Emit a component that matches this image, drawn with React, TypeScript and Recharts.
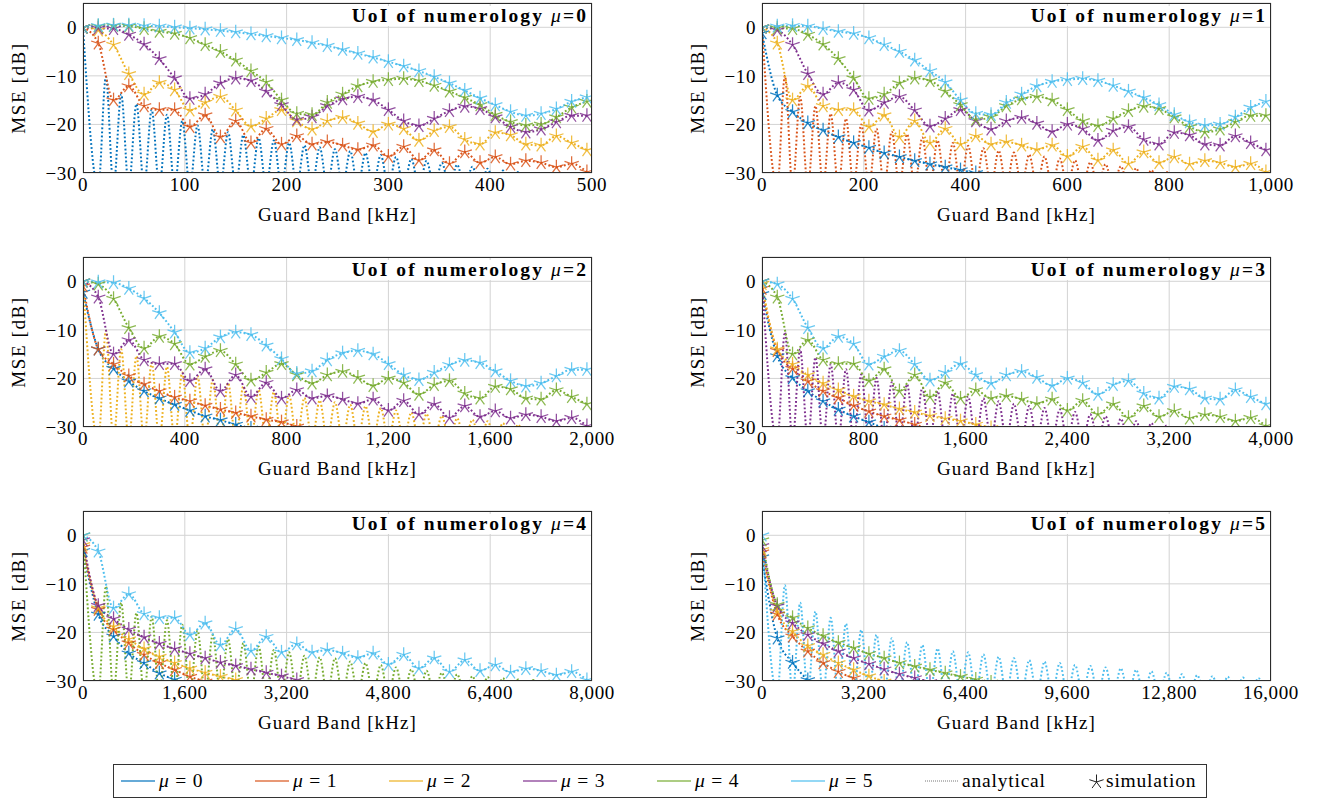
import React from "react";
import { LineChart, Line, XAxis, YAxis, CartesianGrid } from "recharts";

// MATLAB-ish default colours, one per numerology mu = 0..5
const muColors = ["#0072BD", "#D95319", "#EDB120", "#7E2F8E", "#77AC30", "#4DBEEE"];

// per panel (UoI numerology 0..5): spacing of simulated guard bands and axis range, kHz
const starSpacing = [15, 30, 60, 120, 240, 480];
const xMax = [500, 1000, 2000, 4000, 8000, 16000];
const xTicks = [
  [0, 100, 200, 300, 400, 500],
  [0, 200, 400, 600, 800, 1000],
  [0, 400, 800, 1200, 1600, 2000],
  [0, 800, 1600, 2400, 3200, 4000],
  [0, 1600, 3200, 4800, 6400, 8000],
  [0, 3200, 6400, 9600, 12800, 16000],
];
const yTicks = [-30, -20, -10, 0];
const NULL_DB = -33; // the UoI's own curve dips below the axis floor between lobes

// curves of numerologies 1..5 steps above the UoI, read at each simulated guard band
// (same shape in every panel, only the x spacing changes)
const above1 = [0, -3.3, -15, -12.1, -16.2, -17, -17, -20.5, -18.1, -22.6, -19.3, -23.8, -20.9, -24.1, -22.4, -24.1, -23.6, -24.3, -25.2, -24.3, -26.6, -24.6, -27.4, -25.3, -28.1, -25.7, -27.9, -26.7, -28.2, -27.5, -27.9, -28.8, -28.1, -29.8];
const above2 = [0, -0.6, -3.6, -9.6, -13.8, -11.4, -12.9, -17.1, -15.5, -14.3, -17.1, -20.4, -18.8, -17, -19.3, -21, -19.3, -18.6, -19.8, -21.5, -20, -20.9, -23.3, -21.3, -20.5, -23.1, -24.1, -21.7, -22.2, -24.1, -24.3, -22.4, -23.8, -25.3];
const above3 = [0, -0.2, -0.3, -1.5, -3.5, -6.5, -10.5, -14.7, -13.8, -11.5, -10.5, -11, -13.2, -16, -19, -18.5, -16.2, -14.8, -14.3, -15, -17, -19.3, -20.3, -18.8, -17.2, -16.3, -16.8, -18.5, -20.5, -21.6, -21, -19.5, -18.2, -18.2];
const above4 = [0, 0.2, 0.3, 0.2, -0.3, -0.9, -1.3, -2.2, -3.6, -5, -6.8, -9, -11.3, -15, -17.8, -18, -15.5, -13.8, -12.1, -11.2, -10.8, -10.6, -11, -12, -13.2, -14.5, -16, -18, -19.5, -20.2, -20, -18.5, -16.5, -15.3];
const above5 = [0, 0.3, 0.4, 0.4, 0.3, 0.2, 0, -0.2, -0.4, -0.7, -1, -1.4, -1.8, -2.2, -2.6, -3.2, -3.8, -4.6, -5.4, -6.2, -7.1, -8, -9, -10.2, -11.5, -13, -14.6, -16, -17.4, -18.2, -17.8, -16.8, -15.3, -14.4];

// side-lobe peaks of the UoI's own curve, first one between the 1st and 2nd null
const ownPeaks0 = [-10.2, -13.8, -15.8, -17, -18, -19.3, -20.2, -21, -21.6, -22.2, -22.8, -23.3, -23.8, -24.3, -24.7, -25.1, -25.5, -25.9, -26.3, -26.7, -27.1, -27.5, -27.9, -28.3, -28.7, -29.1, -29.5, -29.8, -30.3, -30.8, -31.2, -31.5];
const ownPeaks1 = [-10, -14.3, -16.2, -17.8, -18.8, -20, -20.9, -21.5, -22, -22.7, -23.3, -23.8, -24.4, -24.9, -25.4, -25.8, -26.2, -26.6, -27, -27.4, -27.8, -28.2, -28.6, -29, -29.4, -29.8, -30.3, -31];
const ownPeaks2 = [-10.2, -14, -15.4, -16.8, -17.6, -18.8, -19.5, -20.3, -20.9, -21.6, -22.3, -22.8, -23.5, -24, -24.5, -24.9, -25.4, -25.7, -26.1, -26.6, -27, -27.3, -27.7, -28.2, -28.5, -28.8, -29.2, -29.5, -29.9, -30.3, -30.7, -31];
const ownPeaks3 = [-10.5, -14, -15.7, -17.1, -18.1, -19.2, -19.9, -20.8, -21.2, -21.9, -22.6, -23.1, -23.7, -24.1, -24.7, -25.2, -25.7, -26.1, -26.4, -26.9, -27.4, -27.8, -28.3, -28.8, -29.2, -29.7, -30.2, -30.7];
const ownPeaks4 = [-10.5, -13.9, -16, -16.7, -17.5, -18.4, -19.6, -20.5, -21.4, -22.2, -22.9, -23.6, -24.1, -24.8, -25.1, -25.3, -26, -26.3, -26.7, -27.2, -27.6, -27.9, -28.3, -28.6, -29, -29.2, -29.4, -29.7, -29.8, -29.9, -30.3, -30.6];
const ownPeaks5 = [-10.3, -13.9, -15.7, -17, -18.2, -19.5, -20.5, -21.2, -22, -22.6, -23.3, -23.9, -24.1, -24.5, -25, -25.3, -25.7, -26, -26.3, -26.7, -26.9, -27.2, -27.4, -27.7, -28, -28.3, -28.6, -28.8, -29, -29.1, -29.3, -29.4];

// numerologies below the UoI, per panel
const p1Mu0 = [-1.2, -14, -17.4, -19.7, -21.2, -22.6, -23.8, -24.8, -25.9, -26.7, -27.5, -28.2, -28.8, -29.4, -30, -30.6];
const p2Mu0 = [-2.3, -14, -18, -20.6, -22.6, -24.1, -25.4, -26.6, -27.8, -28.6, -29.5, -30.3];
const p2Mu1 = [-1, -14, -17.1, -19.5, -21.2, -22.6, -23.9, -24.7, -25.6, -26.4, -27.1, -27.8, -28.5, -29, -29.9, -30.7];
const p3Mu0 = [-2.6, -15.4, -19.9, -22.6, -24.7, -26.4, -27.8, -29, -30.3];
const p3Mu1 = [-1.5, -14.3, -18, -20.6, -22.6, -24, -25.6, -26.8, -27.8, -28.6, -29.5, -30.4];
const p3Mu2 = [-0.5, -14, -17.1, -19.3, -21, -22.4, -23.7, -24.7, -25.4, -26.3, -27, -27.7, -28.3, -28.8, -29.5, -30.2];
const p4Mu0 = [-3.2, -16.3, -20.8, -24.3, -26.3, -28.4, -29.7, -31];
const p4Mu1 = [-2.5, -15.3, -19.4, -22.2, -24.6, -26.3, -27.7, -29.1, -30.1];
const p4Mu2 = [-2, -15, -18.8, -21.4, -23.4, -25, -26.3, -27.4, -28.3, -29.1, -29.8, -30.6];
const p4Mu3 = [-1, -14.5, -17.2, -19.4, -21, -22.3, -23.4, -24.4, -25.3, -26.2, -26.9, -27.6, -28.3, -29, -29.8, -30.5];
const p5Mu0 = [-4.5, -21.2, -26.2, -29.8, -32];
const p5Mu1 = [-3.5, -16.3, -20.8, -23.9, -26.3, -28.1, -29.4, -30.5];
const p5Mu2 = [-3, -15.7, -19.8, -22.8, -24.6, -26.3, -27.7, -29, -30.1];
const p5Mu3 = [-2.2, -14.6, -18.1, -20.5, -22.3, -23.9, -25.3, -26.5, -27.6, -28.6, -29.4, -30.2];
const p5Mu4 = [-1, -14.3, -17, -19.1, -20.7, -22.1, -23.2, -24.4, -25.3, -26.3, -27, -27.7, -28.4, -29.1, -29.7, -30.3];

const aboveCurves = [above1, above2, above3, above4, above5];
const ownPeaks = [ownPeaks0, ownPeaks1, ownPeaks2, ownPeaks3, ownPeaks4, ownPeaks5];
const belowCurves = [
  [],
  [p1Mu0],
  [p2Mu0, p2Mu1],
  [p3Mu0, p3Mu1, p3Mu2],
  [p4Mu0, p4Mu1, p4Mu2, p4Mu3],
  [p5Mu0, p5Mu1, p5Mu2, p5Mu3, p5Mu4],
];

type Pt = { x: number; y: number };

function buildSeries(panel: number, mu: number): { line: Pt[]; stars: Pt[] } {
  const step = starSpacing[panel];
  if (mu === panel) {
    const line: Pt[] = [{ x: 0, y: 0 }, { x: step, y: NULL_DB }];
    ownPeaks[panel].forEach((p, j) => {
      line.push({ x: (j + 1.5) * step, y: p }, { x: (j + 2) * step, y: NULL_DB });
    });
    return { line, stars: [{ x: 0, y: 0 }] };
  }
  const vals = mu < panel ? belowCurves[panel][mu] : aboveCurves[mu - panel - 1];
  const pts = vals.map((y, i) => ({ x: i * step, y }));
  return { line: pts, stars: pts };
}

const FONT = "'Liberation Serif', 'DejaVu Serif', serif";

const makeStar = (color: string) => (props: any) => {
  const { cx, cy, index, payload } = props;
  if (cx == null || cy == null || (payload && payload.y < -30.3)) return <g key={`s-${index}`} />;
  const r = 7.5;
  return (
    <g key={`s-${index}`} stroke={color} strokeWidth={1.25} strokeOpacity={0.85}>
      {[0, 1, 2, 3, 4].map((k) => {
        const a = -Math.PI / 2 + (k * 2 * Math.PI) / 5;
        return <line key={k} x1={cx} y1={cy} x2={cx + r * Math.cos(a)} y2={cy + r * Math.sin(a)} />;
      })}
    </g>
  );
};

const fmtY = (v: number) => (v < 0 ? "\u2212" + Math.abs(v) : String(v));
const fmtX = (v: number) => v.toLocaleString("en-US");

const PLOT_W = 509;
const PLOT_H = 170;
const CHART_W = 620;
const CHART_H = 205;
const tickStyle = { fill: "#000", fontSize: 19, fontFamily: FONT, letterSpacing: 0.6 };

const Panel = ({ panel }: { panel: number }) => {
  const col = panel % 2;
  const row = Math.floor(panel / 2);
  const chartLeft = col === 0 ? 0 : 679;
  const chartTop = row * 254;
  const plotLeft = chartLeft + 83;
  const plotTop = chartTop + 3;
  const series = [0, 1, 2, 3, 4, 5].map((mu) => buildSeries(panel, mu));

  return (
    <>
      <div style={{ position: "absolute", left: chartLeft, top: chartTop }}>
        <LineChart
          width={CHART_W}
          height={CHART_H}
          margin={{ top: 3, right: CHART_W - 83 - PLOT_W, bottom: CHART_H - 3 - PLOT_H - 27, left: 43 }}
        >
          <CartesianGrid stroke="#d3d3d3" strokeWidth={1} />
          <XAxis
            type="number"
            dataKey="x"
            domain={[0, xMax[panel]]}
            ticks={xTicks[panel]}
            allowDataOverflow
            tickFormatter={fmtX}
            tick={tickStyle}
            tickLine={false}
            tickSize={4}
            tickMargin={1}
            axisLine={false}
            height={27}
            interval={0}
          />
          <YAxis
            type="number"
            domain={[-30, 5]}
            ticks={yTicks}
            allowDataOverflow
            tickFormatter={fmtY}
            tick={tickStyle}
            tickLine={false}
            tickSize={3}
            tickMargin={3}
            axisLine={false}
            width={40}
            interval={0}
          />
          {series.map((s, mu) => (
            <Line
              key={`a-${mu}`}
              data={s.line}
              dataKey="y"
              type="monotone"
              stroke={muColors[mu]}
              strokeWidth={2}
              strokeDasharray="1.8 2.2"
              dot={false}
              activeDot={false}
              isAnimationActive={false}
            />
          ))}
          {series.map((s, mu) => (
            <Line
              key={`s-${mu}`}
              data={s.stars}
              dataKey="y"
              stroke="none"
              dot={makeStar(muColors[mu])}
              activeDot={false}
              isAnimationActive={false}
            />
          ))}
        </LineChart>
      </div>
      <div
        style={{
          position: "absolute",
          left: plotLeft,
          top: plotTop,
          width: PLOT_W,
          height: PLOT_H,
          border: "1px solid #2b2b2b",
          boxSizing: "border-box",
          pointerEvents: "none",
        }}
      />
      <div
        style={{
          position: "absolute",
          right: 1323 - (plotLeft + PLOT_W) + 3,
          top: plotTop + 3,
          background: "#fff",
          fontWeight: "bold",
          fontSize: 19.5,
          lineHeight: "20px",
          letterSpacing: 2.1,
          padding: "0 1px",
          whiteSpace: "nowrap",
        }}
      >
        UoI of numerology <span style={{ fontStyle: "italic", fontWeight: "normal" }}>μ</span>={panel}
      </div>
      <div
        style={{
          position: "absolute",
          left: chartLeft + 19,
          top: plotTop + 85,
          transform: "translate(-50%, -50%) rotate(-90deg)",
          fontSize: 19,
          letterSpacing: 1.6,
          whiteSpace: "nowrap",
        }}
      >
        MSE [dB]
      </div>
      <div
        style={{
          position: "absolute",
          left: plotLeft + PLOT_W / 2,
          top: chartTop + 215,
          transform: "translate(-50%, -50%)",
          fontSize: 19,
          letterSpacing: 1.1,
          whiteSpace: "nowrap",
        }}
      >
        Guard Band [kHz]
      </div>
    </>
  );
};

const LegendBox = () => (
  <div
    style={{
      position: "absolute",
      left: 113,
      top: 764,
      width: 1094,
      height: 34,
      border: "1px solid #333",
      boxSizing: "border-box",
      display: "flex",
      alignItems: "center",
      paddingLeft: 6,
      fontSize: 19.5,
      letterSpacing: 0.8,
    }}
  >
    {muColors.map((c, mu) => (
      <div key={mu} style={{ width: 134, display: "flex", alignItems: "center" }}>
        <svg width={36} height={10} style={{ marginRight: 3 }}>
          <line x1={1} y1={5} x2={35} y2={5} stroke={c} strokeWidth={2} strokeOpacity={0.6} />
        </svg>
        <span>
          <i>μ</i> = {mu}
        </span>
      </div>
    ))}
    <div style={{ width: 164, display: "flex", alignItems: "center" }}>
      <svg width={36} height={10} style={{ marginRight: 2 }}>
        <line x1={1} y1={5} x2={35} y2={5} stroke="#777" strokeWidth={1} strokeDasharray="1 1" />
      </svg>
      <span>analytical</span>
    </div>
    <div style={{ display: "flex", alignItems: "center" }}>
      <svg width={17} height={17} style={{ marginRight: 1 }}>
        {[0, 1, 2, 3, 4].map((k) => {
          const a = -Math.PI / 2 + (k * 2 * Math.PI) / 5;
          return <line key={k} x1={8.5} y1={9} x2={8.5 + 7.5 * Math.cos(a)} y2={9 + 7.5 * Math.sin(a)} stroke="#222" strokeWidth={1} />;
        })}
      </svg>
      <span>simulation</span>
    </div>
  </div>
);

export default function App() {
  return (
    <div
      style={{
        position: "absolute",
        left: 0,
        top: 0,
        width: 1323,
        height: 800,
        background: "#fff",
        fontFamily: FONT,
        color: "#000",
      }}
    >
      {[0, 1, 2, 3, 4, 5].map((p) => (
        <Panel key={p} panel={p} />
      ))}
      <LegendBox />
    </div>
  );
}
